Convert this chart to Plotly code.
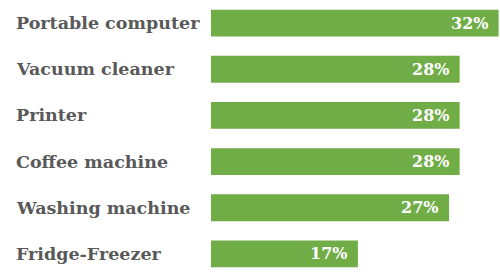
import plotly.graph_objects as go

categories = ["Portable computer", "Vacuum cleaner", "Printer", "Coffee machine",
              "Washing machine", "Fridge-Freezer"]
values = [32.5, 28.1, 28.1, 28.1, 26.9, 16.6]
value_labels = ["32%", "28%", "28%", "28%", "27%", "17%"]

W, H = 500, 277
left = 211
fig = go.Figure(go.Bar(
    x=values, y=categories, orientation="h",
    marker=dict(color="#70AD47", line=dict(width=0)),
    hoverinfo="skip",
))

annotations = []
for c, v, t in zip(categories, values, value_labels):
    annotations.append(dict(x=v, y=c, xref="x", yref="y", text=t, showarrow=False,
                            xanchor="right", xshift=-9,
                            font=dict(family="DejaVu Serif", size=16, color="white", weight="bold")))
    annotations.append(dict(x=-(left - 14) / (W - left), y=c, xref="paper", yref="y", text=c,
                            showarrow=False, xanchor="left",
                            font=dict(family="DejaVu Serif", size=17.5, color="#595959", weight="bold")))

fig.update_layout(
    width=W, height=H,
    margin=dict(l=left, r=0, t=0, b=0),
    paper_bgcolor="white", plot_bgcolor="white",
    bargap=0.42,
    showlegend=False,
    xaxis=dict(range=[0, 32.66], visible=False),
    yaxis=dict(autorange="reversed", showticklabels=False, showgrid=False, zeroline=False),
    annotations=annotations,
)
fig.write_html("out.html")
